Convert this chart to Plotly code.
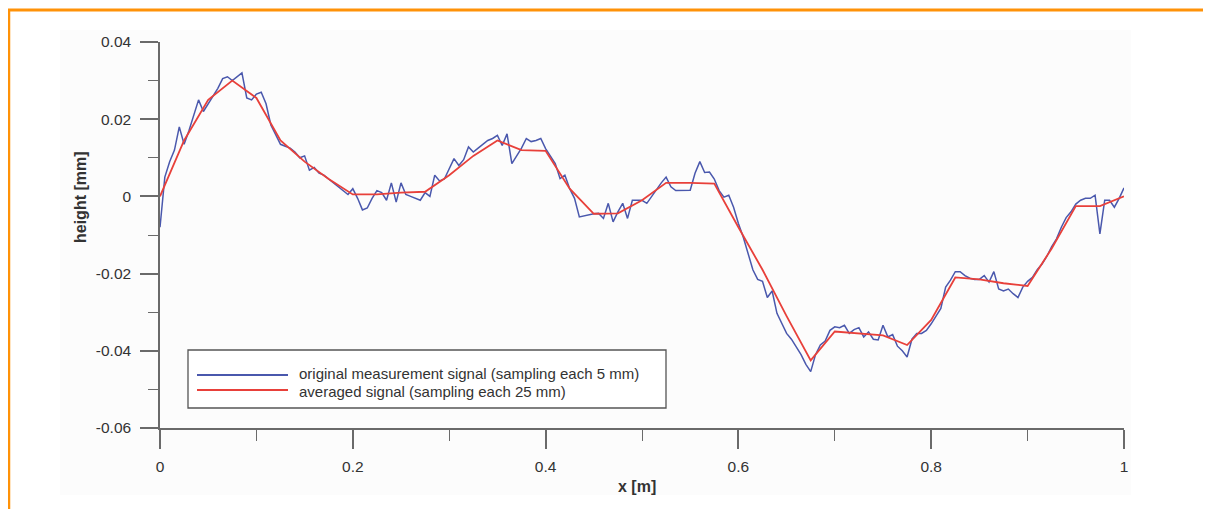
import plotly.graph_objects as go

# ---------------- data ----------------
step_original = 0.005   # 5 mm sampling
step_averaged = 0.025   # 25 mm sampling

original_signal = [
    -0.008, 0.005, 0.009, 0.012, 0.018, 0.0135, 0.017, 0.021, 0.025, 0.022,
    0.024, 0.026, 0.028, 0.0305, 0.031, 0.030, 0.031, 0.032, 0.0255, 0.025,
    0.0265, 0.027, 0.024, 0.0185, 0.016, 0.0135, 0.013, 0.0125, 0.0115, 0.010,
    0.0105, 0.0068, 0.0075, 0.006, 0.0055, 0.0045, 0.0035, 0.0025, 0.0015, 0.0005,
    0.002, -0.0005, -0.0035, -0.003, -0.0005, 0.0015, 0.001, -0.001, 0.0035, -0.0015,
    0.0035, 0.0005, 0.000, -0.0005, -0.001, 0.001, 0.000, 0.0055, 0.004, 0.0045,
    0.007, 0.0098, 0.008, 0.0095, 0.0128, 0.0115, 0.0125, 0.0135, 0.0145, 0.015,
    0.0158, 0.0132, 0.0162, 0.0085, 0.0105, 0.0125, 0.015, 0.0142, 0.0145, 0.015,
    0.0124, 0.0105, 0.0085, 0.0046, 0.0055, 0.002, -0.0005, -0.0053, -0.005, -0.0048,
    -0.0045, -0.0044, -0.0057, -0.0018, -0.0066, -0.004, -0.0018, -0.0057, -0.001, -0.001,
    -0.001, -0.0018, 0.000, 0.002, 0.0035, 0.005, 0.0025, 0.0015, 0.0015, 0.0015,
    0.0016, 0.006, 0.009, 0.0062, 0.0063, 0.0045, 0.0015, -0.0002, 0.0003, -0.0028,
    -0.007, -0.0105, -0.0145, -0.019, -0.0215, -0.022, -0.0262, -0.0245, -0.0303, -0.033,
    -0.0355, -0.037, -0.039, -0.041, -0.0435, -0.0454, -0.041, -0.0385, -0.0375, -0.0347,
    -0.0338, -0.034, -0.0334, -0.0355, -0.0345, -0.034, -0.0364, -0.0351, -0.037, -0.0372,
    -0.0334, -0.0364, -0.0358, -0.0388, -0.040, -0.0416, -0.037, -0.0355, -0.0355, -0.0347,
    -0.033, -0.031, -0.029, -0.0235, -0.0217, -0.0195, -0.0195, -0.0205, -0.0212, -0.0215,
    -0.0215, -0.0205, -0.0222, -0.0195, -0.024, -0.0245, -0.024, -0.0252, -0.0262, -0.0235,
    -0.022, -0.021, -0.019, -0.0175, -0.0155, -0.013, -0.011, -0.008, -0.0055, -0.004,
    -0.002, -0.001, -0.0005, -0.0005, 0.0003, -0.0097, -0.001, -0.001, -0.0028, -0.0005,
    0.0022,
]

averaged_signal = [
    0.000, 0.0145, 0.025, 0.030, 0.0255, 0.0145, 0.009, 0.0045, 0.0005, 0.0005,
    0.001, 0.0012, 0.0055, 0.0105, 0.0145, 0.012, 0.0118, 0.002, -0.0045, -0.0044,
    -0.001, 0.0035, 0.0035, 0.0033, -0.008, -0.019, -0.031, -0.0425, -0.035, -0.0355,
    -0.036, -0.0385, -0.032, -0.021, -0.0215, -0.0225, -0.0232, -0.0135, -0.0025, -0.0025,
    0.000,
]

x_original = [round(i * step_original, 3) for i in range(len(original_signal))]
x_averaged = [round(i * step_averaged, 3) for i in range(len(averaged_signal))]

x_tickvals = [0, 0.2, 0.4, 0.6, 0.8, 1]
x_ticktext = ["0", "0.2", "0.4", "0.6", "0.8", "1"]
y_tickvals = [0.04, 0.02, 0, -0.02, -0.04, -0.06]
y_ticktext = ["0.04", "0.02", "0", "-0.02", "-0.04", "-0.06"]

legend_labels = ["original measurement signal (sampling each 5 mm)",
                 "averaged signal (sampling each 25 mm)"]

# ---------------- styling ----------------
BLUE = "#4a58ad"
RED = "#e8403a"
AXIS = "#6a6a6a"
TEXT = "#333333"
ORANGE = "#FF9208"
FONT = "Liberation Sans, Arial, sans-serif"

# the page body has an 8 px margin: the figure is drawn at (8, 8)
OFF = 8
W, H = 1211 - OFF, 509 - OFF
L = 160 - OFF
T = 42 - OFF
R = W - (1124 - OFF)
B = H - (428 - OFF)
PW, PH = W - L - R, H - T - B


def px(page_x):
    return (page_x - OFF - L) / PW


def py(page_y):
    return (H - B - (page_y - OFF)) / PH


fig = go.Figure()
fig.add_trace(go.Scatter(x=x_original, y=original_signal, mode="lines",
                         line=dict(color=BLUE, width=1.5), name=legend_labels[0],
                         showlegend=False))
fig.add_trace(go.Scatter(x=x_averaged, y=averaged_signal, mode="lines",
                         line=dict(color=RED, width=1.8), name=legend_labels[1],
                         showlegend=False))

shapes = []
# faint panel behind the chart
shapes.append(dict(type="rect", xref="paper", yref="paper", layer="below",
                   x0=px(60), x1=px(1131), y0=py(495), y1=py(30),
                   fillcolor="#fcfcfc", line=dict(width=0)))
# orange frame (top and left)
shapes.append(dict(type="line", xref="paper", yref="paper",
                   x0=px(OFF), x1=px(1211), y0=py(10), y1=py(10),
                   line=dict(color=ORANGE, width=3)))
shapes.append(dict(type="line", xref="paper", yref="paper",
                   x0=px(OFF + 1), x1=px(OFF + 1), y0=py(10), y1=py(509),
                   line=dict(color=ORANGE, width=2.5)))
# legend box
shapes.append(dict(type="rect", xref="paper", yref="paper",
                   x0=px(188), x1=px(666), y0=py(408), y1=py(350),
                   fillcolor="white", line=dict(color="#555555", width=1.3)))
shapes.append(dict(type="line", xref="paper", yref="paper",
                   x0=px(197), x1=px(288), y0=py(375), y1=py(375),
                   line=dict(color=BLUE, width=1.8)))
shapes.append(dict(type="line", xref="paper", yref="paper",
                   x0=px(197), x1=px(288), y0=py(390), y1=py(390),
                   line=dict(color=RED, width=1.8)))

annotations = [
    dict(text=legend_labels[0], xref="paper", yref="paper", x=px(297), y=py(373.5),
         xanchor="left", yanchor="middle", showarrow=False,
         font=dict(family=FONT, size=15, color=TEXT)),
    dict(text=legend_labels[1], xref="paper", yref="paper", x=px(297), y=py(391.5),
         xanchor="left", yanchor="middle", showarrow=False,
         font=dict(family=FONT, size=15, color=TEXT)),
    dict(text="<b>height [mm]</b>", xref="paper", yref="paper", x=px(80), y=py(197),
         textangle=-90, xanchor="center", yanchor="middle", showarrow=False,
         font=dict(family=FONT, size=16, color=TEXT)),
    dict(text="<b>x [m]</b>", xref="paper", yref="paper", x=px(637), y=py(486),
         xanchor="center", yanchor="middle", showarrow=False,
         font=dict(family=FONT, size=16, color=TEXT)),
]

fig.update_layout(
    width=W, height=H,
    margin=dict(l=L, r=R, t=T, b=B, pad=0),
    paper_bgcolor="white", plot_bgcolor="rgba(0,0,0,0)",
    shapes=shapes, annotations=annotations,
    showlegend=False,
    font=dict(family=FONT, size=15, color=TEXT),
)

fig.update_xaxes(
    range=[0, 1], tickvals=x_tickvals, ticktext=x_ticktext,
    showgrid=False, zeroline=False, showline=True, linecolor=AXIS, linewidth=1.5,
    ticks="outside", ticklen=19, tickwidth=1.5, tickcolor=AXIS,
    ticklabelstandoff=5,
    tickfont=dict(family=FONT, size=15.5, color=TEXT),
    minor=dict(ticks="outside", dtick=0.1, tick0=0, ticklen=11, tickwidth=1.3,
               tickcolor=AXIS, showgrid=False),
)
fig.update_yaxes(
    range=[-0.06, 0.04], tickvals=y_tickvals, ticktext=y_ticktext,
    showgrid=False, zeroline=False, showline=True, linecolor=AXIS, linewidth=1.5,
    ticks="outside", ticklen=18, tickwidth=1.5, tickcolor=AXIS,
    ticklabelstandoff=6,
    tickfont=dict(family=FONT, size=15.5, color=TEXT),
    minor=dict(ticks="outside", dtick=0.01, tick0=0, ticklen=10, tickwidth=1.3,
               tickcolor=AXIS, showgrid=False),
)

fig.write_html("out.html")
